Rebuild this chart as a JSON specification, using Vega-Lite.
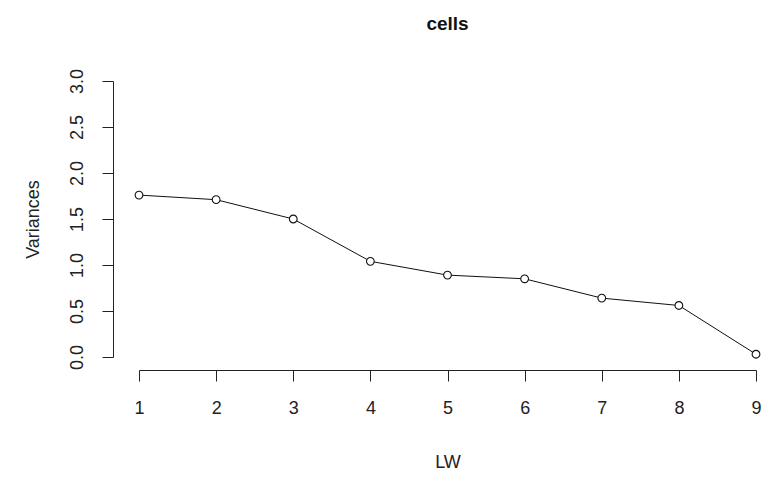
{
  "$schema": "https://vega.github.io/schema/vega-lite/v6.json",
  "autosize": "none",
  "width": 617,
  "height": 276,
  "padding": {"left": 139, "top": 81, "right": 9, "bottom": 137},
  "background": "white",
  "title": {"text": "cells", "font": "Liberation Sans", "fontSize": 19, "fontWeight": "bold", "color": "#111", "anchor": "middle", "offset": 19, "baseline": "alphabetic"},
  "data": {"values": [
    {"LW": 1, "Variances": 1.76},
    {"LW": 2, "Variances": 1.71},
    {"LW": 3, "Variances": 1.50},
    {"LW": 4, "Variances": 1.04},
    {"LW": 5, "Variances": 0.89},
    {"LW": 6, "Variances": 0.85},
    {"LW": 7, "Variances": 0.64},
    {"LW": 8, "Variances": 0.56},
    {"LW": 9, "Variances": 0.03}
  ]},
  "config": {
    "view": {"stroke": null},
    "axis": {"grid": false, "domainColor": "#222", "tickColor": "#222", "labelColor": "#222", "titleColor": "#222", "labelFont": "Liberation Sans", "titleFont": "Liberation Sans", "labelFontSize": 18, "titleFontSize": 18, "titleFontWeight": "normal", "tickSize": 11, "domainWidth": 1, "tickWidth": 1}
  },
  "encoding": {
    "x": {"field": "LW", "type": "quantitative", "scale": {"domain": [1, 9], "nice": false, "zero": false},
      "axis": {"values": [1,2,3,4,5,6,7,8,9], "offset": 13, "labelPadding": 18, "labelFontSize": 18, "title": "LW", "titleFontSize": 18, "titlePadding": 36, "labelFlush": false, "labelOverlap": false}},
    "y": {"field": "Variances", "type": "quantitative", "scale": {"domain": [0, 3], "nice": false},
      "axis": {"values": [0, 0.5, 1, 1.5, 2, 2.5, 3], "format": ".1f", "offset": 26, "labelAngle": -90, "labelAlign": "center", "labelBaseline": "bottom", "labelPadding": 16, "labelFontSize": 18, "title": "Variances", "titleFontSize": 18, "titlePadding": 26, "labelFlush": false, "labelOverlap": false}}
  },
  "layer": [
    {"mark": {"type": "line", "color": "#111", "strokeWidth": 1}},
    {"mark": {"type": "point", "shape": "circle", "filled": true, "fill": "white", "stroke": "#111", "strokeWidth": 1.1, "size": 60, "opacity": 1}}
  ]
}
